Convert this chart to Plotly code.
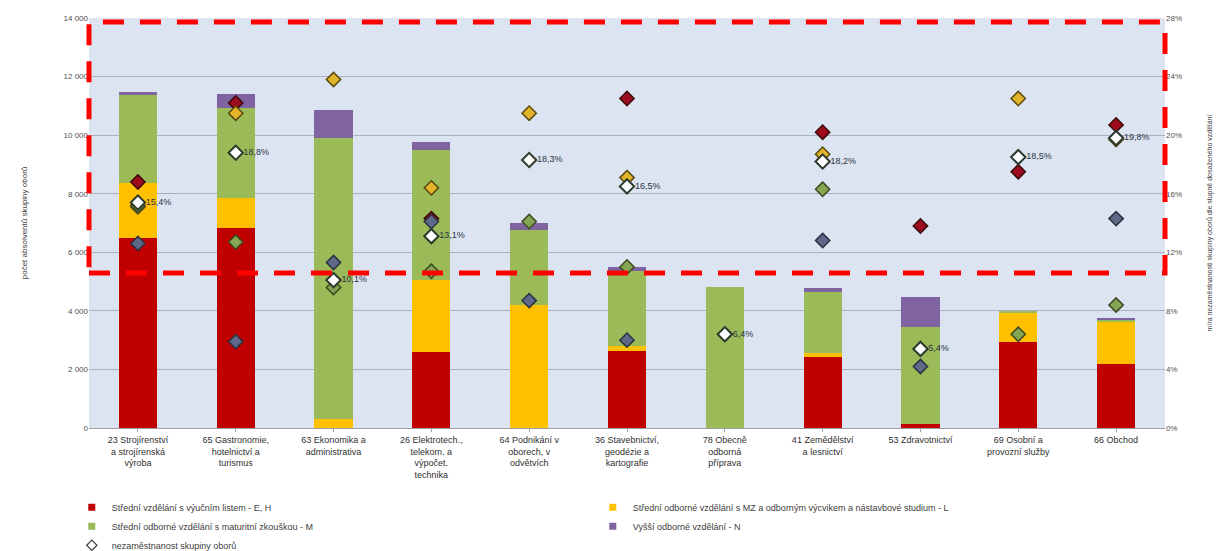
import plotly.graph_objects as go

categories = [
    "23 Strojírenství<br>a strojírenská<br>výroba",
    "65 Gastronomie,<br>hotelnictví a<br>turismus",
    "63 Ekonomika a<br>administrativa",
    "26 Elektrotech.,<br>telekom. a<br>výpočet.<br>technika",
    "64 Podnikání v<br>oborech, v<br>odvětvích",
    "36 Stavebnictví,<br>geodézie a<br>kartografie",
    "78 Obecně<br>odborná<br>příprava",
    "41 Zemědělství<br>a lesnictví",
    "53 Zdravotnictví",
    "69 Osobní a<br>provozní služby",
    "66 Obchod",
]

# graduates (bars, left axis)
grad_EH = [6500, 6830, 0, 2600, 0, 2630, 0, 2420, 150, 2940, 2200]
grad_L = [1850, 1020, 300, 2450, 4200, 170, 0, 140, 0, 1000, 1450]
grad_M = [3020, 3075, 9600, 4450, 2560, 2560, 4800, 2080, 3300, 30, 50]
grad_N = [100, 475, 960, 250, 240, 140, 0, 140, 1020, 0, 70]

# unemployment rates (markers, right axis, %)
unemp_EH = [16.8, 22.2, None, 14.3, None, 22.5, None, 20.2, 13.8, 17.5, 20.7]
unemp_L = [15.1, 21.5, 23.8, 16.4, 21.5, 17.1, None, 18.7, None, 22.5, 19.7]
unemp_M = [15.2, 12.7, 9.6, 10.7, 14.1, 11.0, 6.4, 16.3, None, 6.4, 8.4]
unemp_N = [12.6, 5.9, 11.3, 14.1, 8.7, 6.0, None, 12.8, 4.2, None, 14.3]
unemp_total = [15.4, 18.8, 10.1, 13.1, 18.3, 16.5, 6.4, 18.2, 5.4, 18.5, 19.8]

left_ticks = [0, 2000, 4000, 6000, 8000, 10000, 12000, 14000]
left_ticktext = ["0", "2 000", "4 000", "6 000", "8 000", "10 000", "12 000", "14 000"]
right_ticks = [0, 4, 8, 12, 16, 20, 24, 28]
right_ticktext = ["0%", "4%", "8%", "12%", "16%", "20%", "24%", "28%"]

series_names = [
    "Střední vzdělání s výučním listem - E, H",
    "Střední odborné vzdělání s MZ a odborným výcvikem a nástavbové studium - L",
    "Střední odborné vzdělání s maturitní zkouškou - M",
    "Vyšší odborné vzdělání - N",
]
total_name = "nezaměstnanost skupiny oborů"

bar_colors = ["#C00000", "#FFC000", "#9BBB59", "#8064A2"]
mk_fill = ["#9E0A1E", "#E2B42A", "#86A553", "#5E6888"]
mk_line = ["#3A0A0A", "#5A4A10", "#3C4A22", "#2E3040"]

x = list(range(len(categories)))
fig = go.Figure()

for name, vals, col in zip(series_names, [grad_EH, grad_L, grad_M, grad_N], bar_colors):
    fig.add_trace(go.Bar(x=x, y=vals, name=name, marker=dict(color=col, line=dict(width=0)),
                         yaxis="y", showlegend=False, legendgroup=name))
    # small square legend entry
    fig.add_trace(go.Scatter(x=[None], y=[None], mode="markers", name=name, legendgroup=name,
                             marker=dict(symbol="square", size=7, color=col)))

for vals, fc, lc in zip([unemp_EH, unemp_L, unemp_M, unemp_N], mk_fill, mk_line):
    fig.add_trace(go.Scatter(x=x, y=vals, mode="markers", yaxis="y2", showlegend=False,
                             marker=dict(symbol="diamond", size=11, color=fc,
                                         line=dict(color=lc, width=1.5))))

labels = [f"{v:.1f}%".replace(".", ",") for v in unemp_total]
fig.add_trace(go.Scatter(x=x, y=unemp_total, mode="markers+text", yaxis="y2", name=total_name,
                         text=labels, textposition="middle right", showlegend=False,
                         legendgroup="tot",
                         textfont=dict(size=9, color="#2A3444", family="Liberation Sans"),
                         marker=dict(symbol="diamond", size=11, color="white",
                                     line=dict(color="#2C3A2C", width=2))))
fig.add_trace(go.Scatter(x=[None], y=[None], mode="markers", name=total_name, legendgroup="tot",
                         marker=dict(symbol="diamond", size=8, color="white",
                                     line=dict(color="#404040", width=1.2))))

fig.add_shape(type="rect", xref="paper", yref="paper", x0=0.0, x1=1.0, y0=0.378, y1=0.99,
              line=dict(color="#FF0000", width=5, dash="21px,16px"), fillcolor="rgba(0,0,0,0)")

fig.update_layout(
    width=1218, height=543,
    margin=dict(l=81, r=61, t=10, b=123, autoexpand=False),
    paper_bgcolor="white",
    plot_bgcolor="#DCE4F1",
    barmode="stack",
    bargap=0.61,
    font=dict(family="Liberation Sans", size=9, color="#404040"),
    xaxis=dict(tickmode="array", tickvals=x, ticktext=categories, range=[-0.5, 10.5],
               tickfont=dict(size=9, color="#303030"), showgrid=False, zeroline=False,
               showline=True, linecolor="#A0A0A0", ticks="outside", ticklen=3, tickcolor="#A0A0A0",
               automargin=False),
    yaxis=dict(range=[0, 14000], tickmode="array", tickvals=left_ticks, ticktext=left_ticktext,
               gridcolor="#A9B0BE", gridwidth=1, zeroline=False, showline=False, automargin=False,
               tickfont=dict(size=8, color="#505050"),
               title=dict(text="počet absolventů skupiny oborů", font=dict(size=8, color="#404040"),
                          standoff=34)),
    yaxis2=dict(range=[0, 28], overlaying="y", side="right", tickmode="array", automargin=False,
                tickvals=right_ticks, ticktext=right_ticktext, showgrid=False, zeroline=False,
                tickfont=dict(size=8, color="#505050"),
                title=dict(text="míra nezaměstnanosti skupiny oborů dle stupně dosaženého vzdělání",
                           font=dict(size=7, color="#404040"), standoff=26)),
    legend=dict(orientation="h", x=-0.016, xanchor="left", y=-0.158, yanchor="top",
                entrywidth=476, entrywidthmode="pixels", font=dict(size=9, color="#404040"),
                traceorder="normal", bgcolor="rgba(0,0,0,0)", tracegroupgap=0),
    showlegend=True,
)

fig.write_html("out.html")
